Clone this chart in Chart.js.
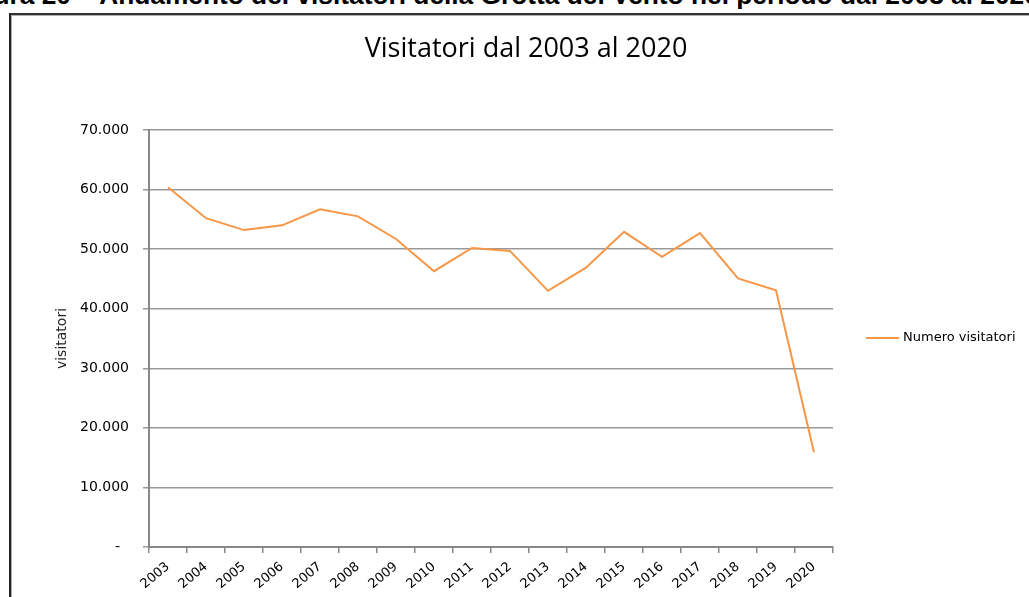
<!DOCTYPE html>
<html>
<head>
<meta charset="utf-8">
<title>Visitatori dal 2003 al 2020</title>
<script src="https://cdn.jsdelivr.net/npm/chart.js@4.4.1/dist/chart.umd.min.js"></script>
<style>
  html, body { margin: 0; padding: 0; background: #fff; }
  body { width: 1029px; height: 597px; overflow: hidden; position: relative; }
  #caption {
    position: absolute; left: -46px; top: -18px;
    font: bold 26.3px "Liberation Sans", Arial, sans-serif;
    line-height: 26px; white-space: nowrap; color: #000;
  }
  #frame {
    position: absolute; left: 9px; top: 13px; width: 1100px; height: 700px;
    border-left: 2px solid #222; border-top: 2px solid #333;
    box-shadow: inset 1px 1px 0 #b0b0b0;
  }
  #chart { position: absolute; left: 0; top: 0; }
</style>
</head>
<body>
<div id="caption">Figura 20 – Andamento dei visitatori della Grotta del Vento nel periodo dal 2003 al 2020</div>
<div id="frame"></div>
<canvas id="chart" width="1029" height="597"></canvas>
<script>
// Chart data
const years = ["2003", "2004", "2005", "2006", "2007", "2008", "2009", "2010", "2011",
  "2012", "2013", "2014", "2015", "2016", "2017", "2018", "2019", "2020"];
const visitors = [60400, 55200, 53200, 54000, 56700, 55500, 51700, 46300, 50200,
  49700, 43000, 46900, 52900, 48700, 52700, 45100, 43100, 15900];
const yMin = 0;
const yMax = 70000;
const yStep = 10000;

const chartTitle = "Visitatori dal 2003 al 2020";
const seriesLabel = "Numero visitatori";
const yAxisTitle = "visitatori";

const lineColor = "#F79646";
const tickFont = { family: "DejaVu Sans", size: 14 };

// Italian thousands separator, zero shown as a dash
function formatTick(value) {
  if (value === 0) return "-  ";
  return String(value).replace(/\B(?=(\d{3})+(?!\d))/g, ".");
}

// Title and legend drawn next to the plot area
const headerPlugin = {
  id: "header",
  afterDraw(chart) {
    const ctx = chart.ctx;
    const area = chart.chartArea;
    const ds = chart.data.datasets[0];
    ctx.save();
    ctx.fillStyle = "#000";
    ctx.font = '27px "Open Sans"';
    ctx.textAlign = "center";
    ctx.textBaseline = "middle";
    ctx.fillText(chartTitle, 526, 49);

    const ly = Math.round((area.top + area.bottom) / 2) - 1;
    ctx.strokeStyle = ds.borderColor;
    ctx.lineWidth = 2;
    ctx.beginPath();
    ctx.moveTo(area.right + 33, ly);
    ctx.lineTo(area.right + 66, ly);
    ctx.stroke();
    ctx.textAlign = "left";
    ctx.font = '13px "DejaVu Sans"';
    ctx.fillText(ds.label, area.right + 70, ly);
    ctx.restore();
  },
};

const ctx = document.getElementById("chart").getContext("2d");
new Chart(ctx, {
  type: "line",
  data: {
    labels: years,
    datasets: [
      {
        label: seriesLabel,
        data: visitors,
        borderColor: lineColor,
        backgroundColor: lineColor,
        borderWidth: 2,
        pointRadius: 0,
        tension: 0,
        fill: false,
      },
    ],
  },
  options: {
    responsive: false,
    animation: false,
    layout: { padding: { left: 40, right: 196, top: 130, bottom: 0 } },
    plugins: {
      legend: { display: false },
      title: { display: false },
      tooltip: { enabled: false },
    },
    scales: {
      x: {
        offset: true,
        grid: { offset: true, drawOnChartArea: false, tickLength: 6, color: "#888", lineWidth: 1.5 },
        border: { color: "#888", width: 2 },
        ticks: {
          minRotation: 40,
          maxRotation: 40,
          padding: 6,
          color: "#000",
          font: { family: "DejaVu Sans", size: 13 },
        },
        afterFit: (scale) => { scale.height = 50; },
      },
      y: {
        min: yMin,
        max: yMax,
        ticks: { stepSize: yStep, padding: 14, color: "#000", font: tickFont, callback: formatTick },
        grid: { tickLength: 6, color: "#999", lineWidth: 1.5 },
        border: { color: "#888", width: 2 },
        title: {
          display: true,
          text: yAxisTitle,
          color: "#222",
          font: { family: "DejaVu Sans", size: 14 },
          padding: { top: 14, bottom: 0 },
        },
        afterFit: (scale) => { scale.width = 109; },
      },
    },
  },
  plugins: [headerPlugin],
});
</script>
</body>
</html>
